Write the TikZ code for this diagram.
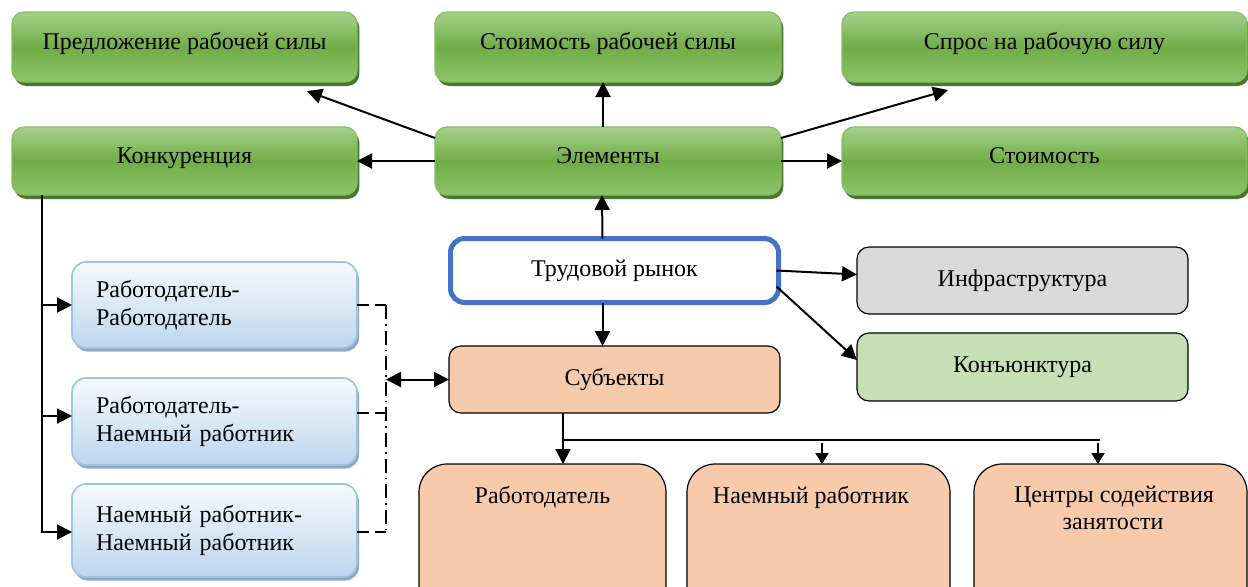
\documentclass[tikz,border=0pt]{standalone}
\usepackage{fontspec}
\setmainfont{Liberation Serif}
\usetikzlibrary{arrows.meta,shadows}
\definecolor{gtop}{HTML}{A6D08A}
\definecolor{gmid}{HTML}{70AD47}
\definecolor{gbot}{HTML}{8CC36A}
\definecolor{gline}{HTML}{86BF63}
\definecolor{gshadow}{HTML}{4A7630}
\definecolor{btop}{HTML}{F6FAFD}
\definecolor{bbot}{HTML}{BCD6EE}
\definecolor{bline}{HTML}{9DC3E6}
\definecolor{bshadow}{HTML}{8FA9C4}
\definecolor{peach}{HTML}{F7CAAC}
\definecolor{grayf}{HTML}{D9D9D9}
\definecolor{lgreen}{HTML}{C5E0B4}
\definecolor{trblue}{HTML}{4472C4}
\tikzset{
  every node/.style={font=\fontsize{12}{14}\selectfont, inner sep=0pt, outer sep=0pt},
  sz/.style 2 args={minimum width=#1*0.5pt, minimum height=#2*0.5pt},
  gbox/.style={draw=gline, line width=0.6pt, rounded corners=6pt,
    top color=gtop, bottom color=gbot, middle color=gmid,
    drop shadow={shadow xshift=1.2pt, shadow yshift=-2pt, fill=gshadow, opacity=1},
    text height=8pt, text depth=6pt},
  bbox/.style={draw=bline, line width=0.8pt, rounded corners=7pt,
    top color=btop, bottom color=bbot,
    drop shadow={shadow xshift=1pt, shadow yshift=-1.8pt, fill=bshadow, opacity=1},
    align=left, text width=118.5pt},
  pbox/.style={draw=black, line width=0.6pt, rounded corners=6pt, fill=peach},
  obox/.style={draw=black, line width=0.6pt, rounded corners=6pt},
  arr/.style={line width=1pt, -{Triangle[length=7.5pt,width=7.5pt]}},
  sarr/.style={line width=0.9pt, -{Triangle[length=5.5pt,width=6.5pt]}},
  ln/.style={line width=0.9pt},
  dsh/.style={line width=0.9pt, dash pattern=on 6pt off 3pt},
  ddot/.style={line width=0.9pt, dash pattern=on 7pt off 2.5pt on 0.8pt off 2.5pt},
}
\begin{document}
\begin{tikzpicture}[x=0.5pt,y=-0.5pt]
\useasboundingbox (0,0) rectangle (1248,586);
\clip (0,0) rectangle (1248,586);
% green element boxes
\node[gbox, sz={345}{70}] (sup) at (184.5,47) {Предложение рабочей силы};
\node[gbox, sz={346}{70}] (cost) at (608,47) {Стоимость рабочей силы};
\node[gbox, sz={405}{70}] (dem) at (1044.5,47) {Спрос на рабочую силу};
\node[gbox, sz={345}{68}] (konk) at (184.5,161) {Конкуренция};
\node[gbox, sz={346}{68}] (el) at (608,161) {Элементы};
\node[gbox, sz={405}{68}] (st) at (1044.5,161) {Стоимость};
% central
\node[draw=trblue, line width=2.5pt, rounded corners=7pt, fill=white, sz={328}{64}] (tr) at (614.5,270.5) {Трудовой рынок};
\node[pbox, sz={331}{67}] (subj) at (614.5,379.5) {Субъекты};
\node[obox, fill=grayf, sz={331}{67}] (inf) at (1022.5,280.5) {Инфраструктура};
\node[obox, fill=lgreen, sz={331}{68}] (kon) at (1022.5,367) {Конъюнктура};
% blue relation boxes
\node[bbox, sz={285}{86}] (bl1) at (214.5,305) {Работодатель-\\Работодатель};
\node[bbox, sz={285}{87}] (bl2) at (214.5,421.5) {Работодатель-\\Наемный работник};
\node[bbox, sz={285}{93}] (bl3) at (214.5,530.5) {Наемный работник-\\Наемный работник};
% bottom subject boxes
\node[pbox, rounded corners=14pt, sz={247}{176}] (b1) at (542.5,552) {};
\node[pbox, rounded corners=14pt, sz={263}{176}] (b2) at (818.5,552) {};
\node[pbox, rounded corners=14pt, sz={273}{176}] (b3) at (1110.5,552) {};
\node[anchor=base] (b1t) at (542.5,503) {Работодатель};
\node[anchor=base] (b2t) at (811,503) {Наемный работник};
\node[anchor=base] (b3t) at (1114,502) {Центры содействия};
\node[anchor=base] (b3u) at (1113,529) {занятости};
% connectors from Элементы
\draw[arr] ([yshift=-5.5pt]el.north west) -- ([xshift=-25pt,yshift=-4.5pt]sup.south east);
\draw[arr] (el.west) -- (konk.east);
\draw[arr] ([xshift=-2.5pt]el.north) -- ([xshift=-2.5pt]cost.south);
\draw[arr] ([yshift=-5.5pt]el.north east) -- ([xshift=53pt,yshift=-4pt]dem.south west);
\draw[arr] (el.east) -- (st.west);
% from Трудовой рынок
\draw[arr] ([xshift=-6pt]tr.north) -- ([xshift=-3pt]el.south);
\draw[arr] ([xshift=-6pt]tr.south) -- ([xshift=-6pt]subj.north);
\draw[arr] ([xshift=-1pt]tr.east) -- ([yshift=3pt]inf.west);
\draw[arr] ([xshift=-1pt,yshift=-8pt]tr.east) -- ([yshift=3.5pt]kon.west);
% subjects tree
\coordinate (j) at (563,440);
\coordinate (je) at (1100,440);
\draw[ln] ([xshift=-25.75pt]subj.south) -- (j);
\draw[arr] (j) -- ([xshift=10.25pt]b1.north);
\draw[line width=0.8pt] (j) -- (je);
\draw[sarr] (j -| b2.north) ++(3.5,3) coordinate (j2) -- ([xshift=1.75pt]b2.north);
\draw[sarr] (je) ++(-2,3) coordinate (j3) -- ([xshift=-6.25pt]b3.north);
% competition trunk
\coordinate (kt) at ([xshift=-71.25pt]konk.south);
\draw[arr] (kt) |- ([yshift=-0.75pt]bl3.west);
\draw[arr] (kt |- bl1.west) -- (bl1.west);
\draw[arr] (kt |- bl2.west) ++(0,-5.5) coordinate (k2) -- ([yshift=2.75pt]bl2.west);
% dashed bracket
\coordinate (dv) at (386,305);
\coordinate (dvb) at (386,532);
\draw[dsh] (bl1.east) -- (dv);
\draw[dsh] ([yshift=4.25pt]bl2.east) -- ([yshift=4.25pt]bl2.east -| dv);
\draw[dsh] ([yshift=-0.75pt]bl3.east) -- (dvb);
\draw[ddot] (dv) -- (dvb);
\draw[line width=1pt, {Triangle[length=7.5pt,width=7.5pt]}-{Triangle[length=7.5pt,width=7.5pt]}] (subj.west -| dv) -- (subj.west);
\end{tikzpicture}
\end{document}
